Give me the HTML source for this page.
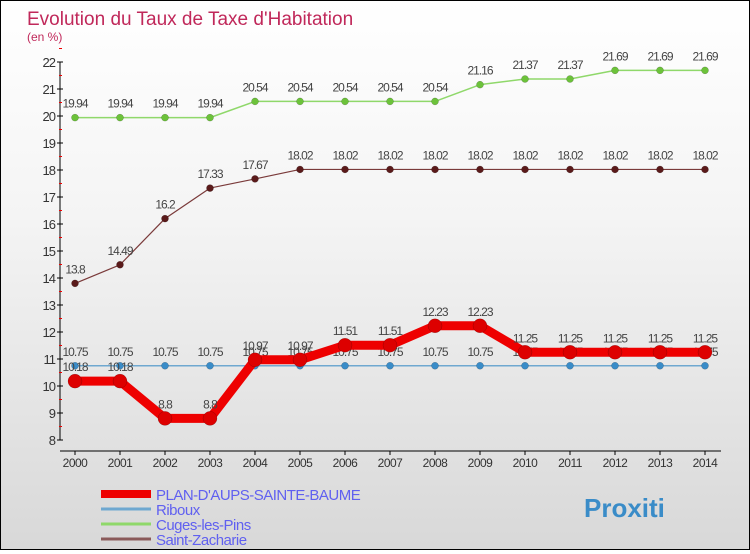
<!DOCTYPE html>
<html><head><meta charset="utf-8"><style>
body{margin:0}
#c{width:748px;height:548px;border:1px solid #000;background:linear-gradient(#fff 0%,#f4f4f4 40%,#d8d8d8 100%);position:relative;font-family:"Liberation Sans",sans-serif}
</style></head><body>
<div id="c">
<svg id="s" width="748" height="548"></svg>
</div>
<script>
const years=["2000","2001","2002","2003","2004","2005","2006","2007","2008","2009","2010","2011","2012","2013","2014"];
const plan=[10.18,10.18,8.8,8.8,10.97,10.97,11.51,11.51,12.23,12.23,11.25,11.25,11.25,11.25,11.25];
const riboux=[10.75,10.75,10.75,10.75,10.75,10.75,10.75,10.75,10.75,10.75,10.75,10.75,10.75,10.75,10.75];
const cuges=[19.94,19.94,19.94,19.94,20.54,20.54,20.54,20.54,20.54,21.16,21.37,21.37,21.69,21.69,21.69];
const stz=[13.8,14.49,16.2,17.33,17.67,18.02,18.02,18.02,18.02,18.02,18.02,18.02,18.02,18.02,18.02];
const yTicks=[8,9,10,11,12,13,14,15,16,17,18,19,20,21,22];
const names=["PLAN-D'AUPS-SAINTE-BAUME","Riboux","Cuges-les-Pins","Saint-Zacharie"];
const NS="http://www.w3.org/2000/svg",s=document.getElementById('s');
const X=i=>74+45*i, Y=v=>439-(v-8)*27;
function el(t,a,p){const e=document.createElementNS(NS,t);for(const k in a)e.setAttribute(k,a[k]);(p||s).appendChild(e);return e;}
let t=el('text',{x:26,y:24,fill:'#c0285a','font-size':19});t.textContent="Evolution du Taux de Taxe d'Habitation";

t=el('text',{x:26,y:40,fill:'#c0285a','font-size':12});t.textContent="(en %)";

let a=el('line',{x1:59,y1:Y(22),x2:59,y2:Y(8),stroke:'#000'});

yTicks.forEach(v=>{el('line',{x1:56,x2:62,y1:Y(v),y2:Y(v),stroke:'#000'});
 el('line',{x1:58,x2:61,y1:Y(v+0.5),y2:Y(v+0.5),stroke:'#e00'});
 const l=el('text',{x:54,y:Y(v)+5,'text-anchor':'end','font-size':13,fill:'#333','letter-spacing':'-1'});l.textContent=v;
 });
a=el('line',{x1:59,y1:450,x2:720,y2:450,stroke:'#000'});

years.forEach((y,i)=>{el('line',{x1:X(i),x2:X(i),y1:450,y2:454,stroke:'#000'});
 const l=el('text',{x:X(i),y:466,'text-anchor':'middle','font-size':12,fill:'#333','letter-spacing':'-0.5'});l.textContent=y;
 });
function series(d,col,w,r,dot,nm){
 const p=el('polyline',{points:d.map((v,i)=>X(i)+','+Y(v)).join(' '),fill:'none',stroke:col,'stroke-width':w,'stroke-linejoin':'round'});
 
 d.forEach((v,i)=>{const c=el('circle',{cx:X(i),cy:Y(v),r:r,fill:dot,stroke:'rgba(0,0,0,0.3)','stroke-width':0.5});
  
  const l=el('text',{x:X(i),y:Y(v)-10,'text-anchor':'middle','font-size':12,fill:'#444','letter-spacing':'-1'});l.textContent=v;
  });
}
series(riboux,'#6fa8d0',1.5,3.5,'#3a8cc8','riboux');
series(cuges,'#8fd86a',1.5,3.5,'#6cc23a','cuges');
series(stz,'#7a3a3a',1.2,3.5,'#5a1a1a','saint-zacharie');
series(plan,'#ee0000',9,7,'#dd0000','plan');
const lc=['#ee0000','#6fa8d0','#8fd86a','#8a5a5a'],lw=[8,3,3,3];
names.forEach((n,i)=>{const y=493+15*i;
 const ln=el('line',{x1:100,x2:150,y1:y,y2:y,stroke:lc[i],'stroke-width':lw[i]});
 
 const l=el('text',{x:155,y:y+6,'font-size':15,fill:'#6060f0','letter-spacing':'-0.5'});l.textContent=n;
 });
t=el('text',{x:583,y:516,'font-size':26,'font-weight':'bold',fill:'#3a8cc8'});t.textContent="Proxiti";

</script>
</body></html>
